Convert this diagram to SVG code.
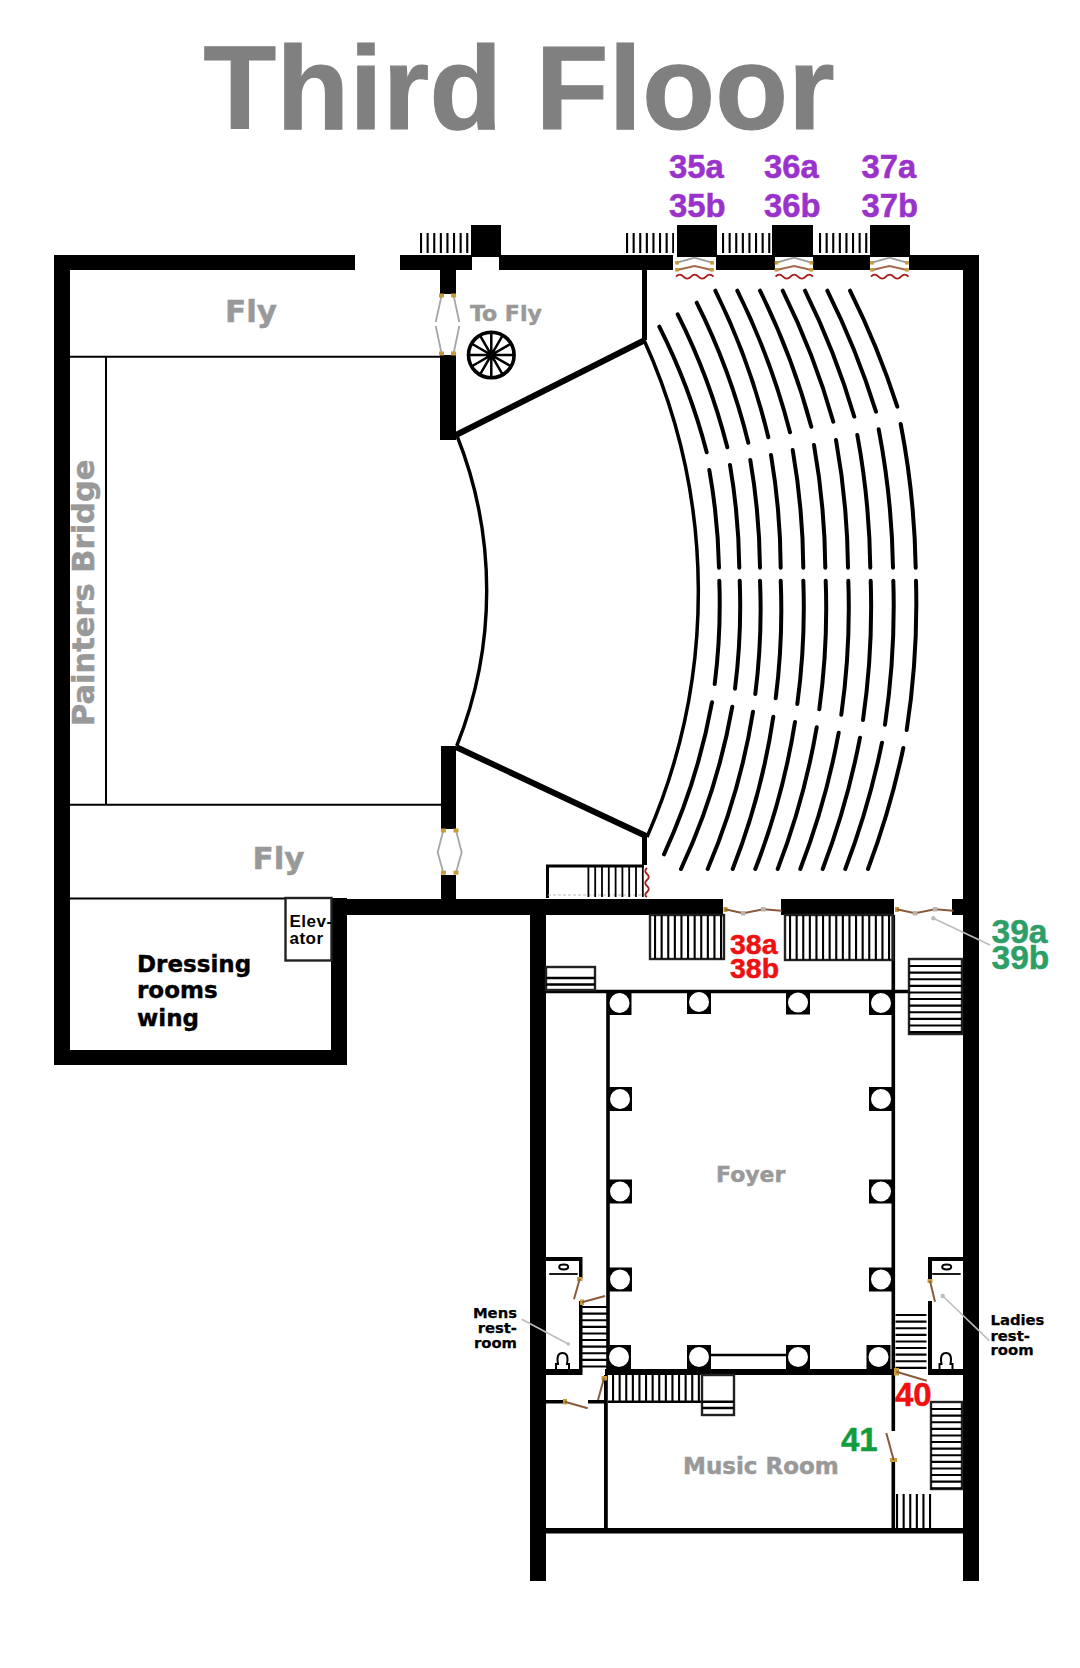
<svg xmlns="http://www.w3.org/2000/svg" width="1080" height="1668" viewBox="0 0 1080 1668">
<style>
.w{fill:#000}
.t{fill:none;stroke:#000}
.tick{stroke:#000;stroke-dasharray:2.1 4.500;fill:none}
.box{fill:none;stroke:#222;stroke-width:2.400}
.row{fill:none;stroke:#000;stroke-width:4;stroke-linecap:round}
.gold{fill:#c89b3c}
.leaf{fill:none;stroke:#8a5a3c;stroke-width:2}
.gray{fill:none;stroke:#a6a6a6;stroke-width:1.800}
.wave{fill:none;stroke:#a81c1c;stroke-width:1.800}
.lead{fill:none;stroke:#bdbdbd;stroke-width:1.600}
.dot{fill:#bdbdbd}
.a{font-family:"Liberation Sans",Arial,sans-serif;font-weight:700}
.d{font-family:"DejaVu Sans",Verdana,sans-serif;font-weight:700}
.g{fill:#999;stroke:#999;stroke-width:.5}
.p{fill:#9933cc;stroke:#9933cc;stroke-width:.5;font-size:32.800px}
.r38{fill:#ee1111;stroke:#ee1111;stroke-width:.5;font-size:28.500px}
.g39{fill:#2e9e68;stroke:#2e9e68;stroke-width:.5;font-size:33.500px}
.s{fill:#000;font-size:14.800px;stroke:#000;stroke-width:.25}
</style>
<defs>
<g id="tripleDoor">
<path d="M0 6.700L17.500 1.700L35 6.700" fill="none" stroke="#999" stroke-width="1.800"/>
<path d="M0 14L17.500 10L35 14" fill="none" stroke="#a5694a" stroke-width="1.800"/>
<path class="wave" d="M-1 20.700q3.700 -4 7.500 0t7.500 0t7.500 0t7.500 0t7.500 0"/>
<rect class="gold" x="-1.800" y="5" width="3.600" height="3.600"/><rect class="gold" x="33.200" y="5" width="3.600" height="3.600"/>
<rect class="gold" x="-1.800" y="12" width="3.600" height="3.600"/><rect class="gold" x="33.200" y="12" width="3.600" height="3.600"/>
</g>
<g id="pillar"><rect x="-12" y="-12" width="24" height="24" fill="#000"/><circle r="10" fill="#fff"/></g>
<g id="toilet"><path d="M-6.500 17V12H-4.500C-6 4 -4 1 0 1S6 4 4.500 12H6.500V17" fill="none" stroke="#000" stroke-width="2"/></g>
<g id="sink"><ellipse rx="4.500" ry="2.400" fill="none" stroke="#000" stroke-width="2"/><line x1="-14.500" y1="7" x2="14" y2="7" stroke="#000" stroke-width="1.800"/></g>
</defs>
<rect width="1080" height="1668" fill="#fff"/>

<g id="title"><text class="a" x="203.500" y="128.500" font-size="119" fill="#808080" stroke="#808080" stroke-width="1.200" textLength="631" lengthAdjust="spacing">Third Floor</text></g>

<g id="walls">
<rect class="w" x="54" y="255" width="301" height="15"/>
<rect class="w" x="400" y="255" width="72" height="15"/>
<rect class="w" x="499" y="255" width="174" height="15"/>
<rect class="w" x="716" y="255" width="59" height="15"/>
<rect class="w" x="813" y="255" width="57" height="15"/>
<rect class="w" x="909" y="255" width="70" height="15"/>
<rect class="w" x="471" y="225" width="30" height="32"/>
<rect class="w" x="677" y="225" width="40" height="32"/>
<rect class="w" x="772" y="225" width="41" height="32"/>
<rect class="w" x="870" y="225" width="40" height="32"/>
<rect class="w" x="54" y="255" width="16" height="810"/>
<rect class="w" x="54" y="1050" width="293" height="15"/>
<rect class="w" x="331" y="898" width="16" height="167"/>
<rect class="w" x="331" y="899" width="392" height="16"/>
<rect class="w" x="781" y="899" width="113" height="16"/>
<rect class="w" x="952" y="899" width="15" height="16"/>
<rect class="w" x="963" y="255" width="16" height="1326"/>
<rect class="w" x="530" y="899" width="16" height="682"/>
<rect class="w" x="530" y="1528" width="449" height="5.500"/>
<rect class="w" x="440" y="255" width="16" height="39"/>
<rect class="w" x="440" y="355" width="16" height="85"/>
<rect class="w" x="441" y="746" width="15" height="83"/>
<rect class="w" x="441" y="875" width="15" height="26"/>
<rect class="w" x="642" y="270" width="5" height="70"/>
<rect class="w" x="642" y="836" width="5" height="29"/>
<path class="t" stroke-width="6" d="M456 435L645 340M456 747L646 836"/>
<path class="t" stroke-width="3.400" d="M456.700 435A418 418 0 0 1 456.700 746"/>
<path class="t" stroke-width="2" d="M70 356.700H440M70 804.700H441M106 356.700V804.700M70 898.500H285"/>
<rect x="285.500" y="898" width="46" height="62.500" fill="#fff" stroke="#222" stroke-width="2.400"/>
<!-- foyer -->
<path class="t" stroke-width="3.600" d="M546 991.500H909M608 991.500V1369M893.300 915V1431M893.300 1460V1528"/>
<rect class="w" x="605" y="1369" width="288" height="6"/>
<rect class="w" x="928" y="1369" width="35" height="6"/>
<rect class="w" x="604" y="1375" width="3.800" height="153"/>
<path class="t" stroke-width="2.500" d="M710 1355H786"/>
<!-- restrooms -->
<rect class="w" x="546" y="1257" width="36" height="4"/>
<rect class="w" x="579" y="1257" width="3.500" height="21"/>
<rect class="w" x="579" y="1301" width="3.500" height="74"/>
<rect class="w" x="546" y="1369" width="36" height="6"/>
<rect class="w" x="928" y="1257" width="35" height="4"/>
<rect class="w" x="928" y="1257" width="4" height="25"/>
<rect class="w" x="928" y="1301" width="4" height="74"/>
<rect class="w" x="546" y="1400" width="19" height="3.500"/>
<rect class="w" x="588" y="1400" width="17" height="3.500"/>
</g>

<g id="stairs">
<line class="tick" x1="420" y1="243" x2="470" y2="243" stroke-width="20"/>
<line class="tick" x1="626" y1="243" x2="674" y2="243" stroke-width="20"/>
<line class="tick" x1="722" y1="243" x2="771" y2="243" stroke-width="20"/>
<line class="tick" x1="819" y1="243" x2="868" y2="243" stroke-width="20"/>
<path class="t" stroke-width="3" d="M644 866H547.500V898"/>
<path d="M548 895H644" fill="none" stroke="#bbb" stroke-width="1" stroke-dasharray="3 2"/>
<line class="tick" x1="587.500" y1="881.500" x2="645" y2="881.500" stroke-width="31" style="stroke-dasharray:1.800 5"/>
<rect class="box" x="650" y="915" width="74" height="44"/>
<line class="tick" x1="654" y1="937" x2="724" y2="937" stroke-width="44"/>
<rect class="box" x="785" y="915" width="108" height="45"/>
<line class="tick" x1="789" y1="937.500" x2="893" y2="937.500" stroke-width="45"/>
<rect class="box" x="546" y="967" width="49" height="23"/>
<path class="t" stroke-width="2.400" d="M546 978H595M546 984.500H595"/>
<rect class="box" x="909" y="959" width="53" height="75"/>
<line class="tick" x1="935.500" y1="965" x2="935.500" y2="1034" stroke-width="53"/>
<line class="tick" x1="595" y1="1306" x2="595" y2="1369" stroke-width="26"/>
<line class="tick" x1="911" y1="1314" x2="911" y2="1369" stroke-width="31"/>
<rect class="box" x="931" y="1402" width="31" height="87"/>
<line class="tick" x1="946.500" y1="1408" x2="946.500" y2="1489" stroke-width="31"/>
<line class="tick" x1="612" y1="1388" x2="702" y2="1388" stroke-width="26"/>
<path class="t" stroke-width="2.400" d="M608 1401.700H702"/>
<rect class="box" x="702" y="1375" width="32" height="40"/>
<path class="t" stroke-width="2.400" d="M702 1401.700H734M702 1408H734"/>
<line class="tick" x1="896" y1="1511" x2="932" y2="1511" stroke-width="34"/>
</g>

<g id="seating">
<path class="t" stroke-width="3.500" d="M644 340A611 611 0 0 1 647 837"/>
<path class="row" d="M659.300 326.700A632 632 0 0 1 706.700 452.300M677.700 314.300A652 652 0 0 1 727.300 447.300M696.700 302.700A673 673 0 0 1 748.300 442.700M715.300 290.700A694 694 0 0 1 768.300 437.300M737.300 290.700A716 716 0 0 1 790 432.300M760 290.700A739 739 0 0 1 811.300 426.700M782.700 290.700A761 761 0 0 1 833.300 421.700M805 290.700A784 784 0 0 1 854.300 416.700M827.300 290.700A806 806 0 0 1 876 411.700M850 290.700A829 829 0 0 1 897.300 406.700"/>
<path class="row" d="M709.300 470A632 632 0 0 1 719 567.700M730 465A652 652 0 0 1 739.300 567.700M750.300 460A673 673 0 0 1 760 567.700M771 455A694 694 0 0 1 780.700 567.700M792.700 450A716 716 0 0 1 803.300 567.700M814 445A739 739 0 0 1 825.300 567.700M836 440A761 761 0 0 1 848 567.700M857.300 435A784 784 0 0 1 870.300 567.700M878.700 429.300A806 806 0 0 1 893 567.700M900.700 424A829 829 0 0 1 915.700 567.700"/>
<path class="row" d="M719.300 580.700A632 632 0 0 1 714.700 684M739.700 580.700A652 652 0 0 1 735 688.700M760 580.700A673 673 0 0 1 755.300 694M780.700 580.700A694 694 0 0 1 775.700 698.300M803.300 580.700A716 716 0 0 1 797.300 704M825.700 580.700A739 739 0 0 1 819.300 709.300M848.300 580.700A761 761 0 0 1 841.300 714.700M870.700 580.700A784 784 0 0 1 863 720M893.300 580.700A806 806 0 0 1 885 724.700M916 580.700A829 829 0 0 1 906.700 730"/>
<path class="row" d="M712 702.300A632 632 0 0 1 664 854.300M732.300 706.700A652 652 0 0 1 681 869M753 711.700A673 673 0 0 1 707.700 869M773.300 716.700A694 694 0 0 1 732.700 869M795 722A716 716 0 0 1 755.300 869M816.700 727.300A739 739 0 0 1 777.700 869M838.700 732.700A761 761 0 0 1 800.300 869M860 737.700A784 784 0 0 1 822.700 869M882 742.700A806 806 0 0 1 845.300 869M903.300 748A829 829 0 0 1 868 869"/>
</g>

<g id="pillars">
<use href="#pillar" x="619.500" y="1003"/>
<use href="#pillar" x="699" y="1002"/>
<use href="#pillar" x="798" y="1002.500"/>
<use href="#pillar" x="881" y="1003"/>
<use href="#pillar" x="620" y="1099"/>
<use href="#pillar" x="620" y="1191.500"/>
<use href="#pillar" x="620" y="1279.500"/>
<use href="#pillar" x="881" y="1099"/>
<use href="#pillar" x="881" y="1191.500"/>
<use href="#pillar" x="881" y="1279.500"/>
<use href="#pillar" x="619" y="1357"/>
<use href="#pillar" x="699" y="1357"/>
<use href="#pillar" x="798" y="1357"/>
<use href="#pillar" x="878.500" y="1357"/>
</g>

<g id="wheel" fill="none" stroke="#000">
<circle cx="491.300" cy="355" r="22.800" stroke-width="3.600"/>
<path stroke-width="2.500" d="M491.300 332V378M468.300 355H514.300M479.800 335.100L502.800 374.900M471.400 343.500L511.200 366.500M502.800 335.100L479.800 374.900M511.200 343.500L471.400 366.500"/>
</g>

<g id="fixtures">
<use href="#sink" x="563.700" y="1267"/>
<use href="#sink" x="946.700" y="1267"/>
<use href="#toilet" x="562.500" y="1352"/>
<use href="#toilet" x="946" y="1352"/>
</g>

<g id="doors">
<use href="#tripleDoor" x="677" y="256"/>
<use href="#tripleDoor" x="776.500" y="256"/>
<use href="#tripleDoor" x="872" y="256"/>
<path class="gray" d="M441.500 296L435.700 322M453.700 296L459.300 322M435.700 326L441.500 353M459.300 326L453.700 353"/>
<path class="gray" d="M443.300 830.500L437.700 852.300L443.300 872.700M456 830.500L461.700 852.300L456 872.700"/>
<g class="gold">
<rect x="439" y="293.500" width="5" height="4"/><rect x="451" y="293.500" width="5" height="4"/>
<rect x="439" y="351.500" width="5" height="4"/><rect x="451" y="351.500" width="5" height="4"/>
<rect x="441" y="828.500" width="5" height="4"/><rect x="453.500" y="828.500" width="5" height="4"/>
<rect x="441" y="870.700" width="5" height="4"/><rect x="453.500" y="870.700" width="5" height="4"/>
<rect x="723.500" y="907" width="4" height="5"/>
<rect x="895" y="907" width="4" height="5"/>
<rect x="577" y="1277" width="5.500" height="4"/>
<rect x="580" y="1299.500" width="4" height="5.500"/>
<rect x="601.500" y="1376" width="5.500" height="4.500"/>
<rect x="563" y="1399" width="4" height="5.500"/>
<rect x="927.500" y="1279" width="5" height="4"/>
<rect x="894" y="1368" width="5" height="7.500"/>
<rect x="890" y="1458" width="7" height="4"/>
</g>
<path class="wave" d="M647 868q-3.500 3 0 6t0 6t0 6t0 6t0 5"/>
<path class="leaf" d="M725 909.300L743.300 913.300L763.300 909.300L781.700 910.700M896.700 909.300L915 913.300L935 909.300L953.300 910.700"/>
<g fill="#bcb4ac">
<rect x="741" y="911" width="4.500" height="4.500"/><rect x="761" y="907" width="4.500" height="4.500"/>
<rect x="912.800" y="911" width="4.500" height="4.500"/><rect x="932.800" y="907" width="4.500" height="4.500"/>
</g>
<path class="leaf" d="M579.700 1279L574 1299.300M582 1302.300L605 1296M604 1378.300L598 1400M564.700 1401.700L587.700 1408.300M930 1281L935 1301.700M896.300 1371.700L926.700 1380.700M893.700 1460L886.300 1433"/>
</g>

<g id="leaders">
<path class="lead" d="M933.300 918.300L990 945M521.700 1319.300L568.300 1344M942.700 1296L989.300 1340.700"/>
<circle class="dot" cx="933.300" cy="918.300" r="2.200"/>
<circle class="dot" cx="568.300" cy="1344" r="1.800"/>
<circle class="dot" cx="942.700" cy="1296" r="2.200"/>
</g>

<g id="labels">
<text class="d g" x="225" y="322" font-size="31">Fly</text>
<text class="d g" x="252.500" y="868.700" font-size="31">Fly</text>
<text class="d g" x="470" y="321" font-size="22">To Fly</text>
<text class="d g" transform="translate(94 726) rotate(-90)" font-size="30.500">Painters Bridge</text>
<text class="d g" x="716" y="1181.700" font-size="22">Foyer</text>
<text class="d g" x="683" y="1474" font-size="23">Music Room</text>
<g class="d" font-size="23" fill="#000" stroke="#000" stroke-width=".4"><text x="137" y="971.700">Dressing</text><text x="137" y="998.300">rooms</text><text x="137" y="1025.700">wing</text></g>
<g class="a" font-size="17" fill="#000" letter-spacing=".5"><text x="289.500" y="926.700">Elev-</text><text x="289.500" y="944.300">ator</text></g>
<g class="d s" text-anchor="end"><text x="517" y="1317.700">Mens</text><text x="517" y="1332.700">rest-</text><text x="517" y="1347.700">room</text></g>
<g class="d s"><text x="990.500" y="1325.300">Ladies</text><text x="990.500" y="1340.700">rest-</text><text x="990.500" y="1355">room</text></g>
<g class="a p"><text x="669" y="178.300">35a</text><text x="669" y="216.700">35b</text><text x="764" y="178.300">36a</text><text x="764" y="216.700">36b</text><text x="861.500" y="178.300">37a</text><text x="861.500" y="216.700">37b</text></g>
<g class="a r38"><text x="730" y="954.300">38a</text><text x="730" y="977.700">38b</text></g>
<g class="a g39"><text x="991.500" y="943.300">39a</text><text x="991.500" y="969">39b</text></g>
<text class="a" x="895" y="1406" font-size="33" fill="#f01010" stroke="#f01010" stroke-width=".5">40</text>
<text class="a" x="841" y="1451" font-size="33" fill="#0f9d3e" stroke="#0f9d3e" stroke-width=".5">41</text>
</g>
</svg>
